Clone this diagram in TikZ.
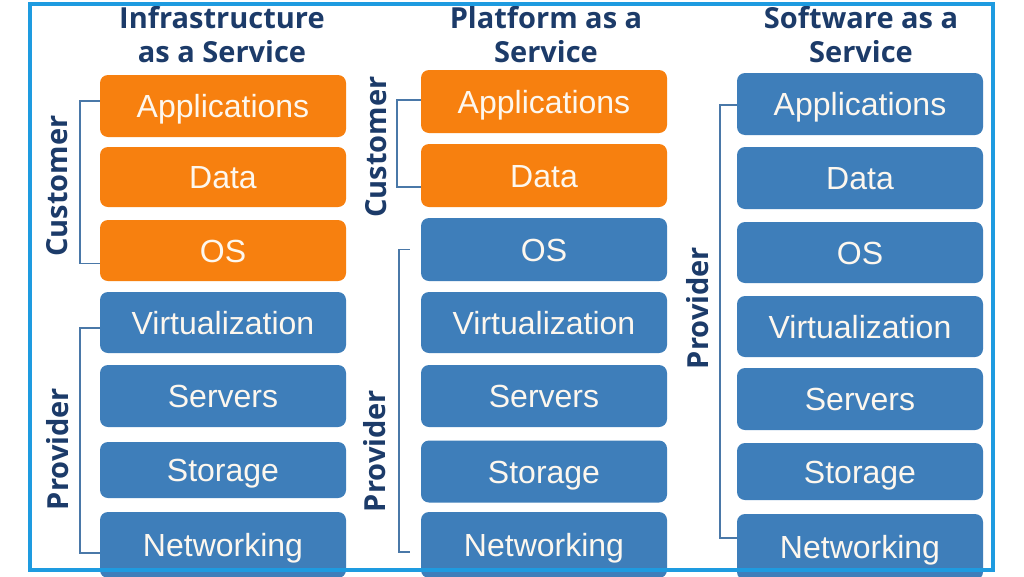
\documentclass[tikz,border=0pt]{standalone}
\usepackage{fontspec}
\setmainfont{Liberation Sans}
\newfontfamily\headfont{Open Sans}[BoldFont={* Bold}]
\definecolor{orangebox}{HTML}{F7800F}
\definecolor{bluebox}{HTML}{3E7EBA}
\definecolor{navy}{HTML}{1C3B69}
\definecolor{frame}{HTML}{1E9BE0}
\definecolor{brack}{HTML}{4A78A8}
\definecolor{boxtext}{HTML}{FDF7EE}
\begin{document}
\begin{tikzpicture}[x=1pt,y=-1pt,
  layer/.style={rectangle,rounded corners=8pt,minimum width=246pt,inner sep=0pt,
    text height=23pt,text depth=0pt,
    text=boxtext,font=\fontsize{32}{36}\selectfont},
  cust/.style={layer,fill=orangebox},
  prov/.style={layer,fill=bluebox},
  head/.style={text=navy,align=center,font=\headfont\bfseries\fontsize{29}{34}\selectfont},
  side/.style={text=navy,rotate=90,font=\headfont\bfseries\fontsize{29}{32}\selectfont},
  brk/.style={draw=brack,line width=1.6pt}]
\useasboundingbox (0,0) rectangle (1024,576);
\fill[white] (0,0) rectangle (1024,576);
\begin{scope}
\clip (0,0) rectangle (1024,576);
% headers
\node[head] (h1) at (222,35) {Infrastructure\\as a Service};
\node[head] (h2) at (546,35) {Platform as a\\Service};
\node[head] (h3) at (861,35) {Software as a\\Service};
% column 1
\node[cust,minimum height=62pt] (a1) at (223,106) {Applications};
\node[cust,minimum height=60pt] (d1) at (223,177) {Data};
\node[cust,minimum height=61pt] (o1) at (223,250.5) {OS};
\node[prov,minimum height=61pt] (v1) at (223,322.5) {Virtualization};
\node[prov,minimum height=62pt] (s1) at (223,396) {Servers};
\node[prov,minimum height=56pt] (t1) at (223,470) {Storage};
\node[prov,minimum height=66pt] (n1) at (223,545) {Networking};
% column 2
\node[cust,minimum height=63pt] (a2) at (544,101.5) {Applications};
\node[cust,minimum height=63pt] (d2) at (544,175.5) {Data};
\node[prov,minimum height=63pt] (o2) at (544,249.5) {OS};
\node[prov,minimum height=61pt] (v2) at (544,322.5) {Virtualization};
\node[prov,minimum height=62pt] (s2) at (544,396) {Servers};
\node[prov,minimum height=62pt] (t2) at (544,471.5) {Storage};
\node[prov,minimum height=66pt] (n2) at (544,545) {Networking};
% column 3
\node[prov,minimum height=62pt] (a3) at (860,104) {Applications};
\node[prov,minimum height=62pt] (d3) at (860,178) {Data};
\node[prov,minimum height=61pt] (o3) at (860,252.5) {OS};
\node[prov,minimum height=61pt] (v3) at (860,326.5) {Virtualization};
\node[prov,minimum height=62pt] (s3) at (860,399) {Servers};
\node[prov,minimum height=57pt] (t3) at (860,471.5) {Storage};
\node[prov,minimum height=66pt] (n3) at (860,547) {Networking};
% brackets
\draw[brk] ([yshift=5pt]a1.west) -- ++(-20,0) |- ([yshift=-13pt]o1.west);
\draw[brk] ([yshift=-5.5pt]v1.west) -- ++(-20,0) |- ([yshift=-8pt]n1.west);
\draw[brk] ([yshift=1.5pt]a2.west) -- ++(-24,0) |- ([yshift=-11.5pt]d2.west);
\coordinate (p2t) at ([xshift=-11pt]o2.west);
\coordinate (p2b) at ([xshift=-11pt,yshift=-7pt]n2.west);
\draw[brk] (p2t) -- ++(-11,0) |- (p2b);
\draw[brk] ([yshift=-1pt]a3.west) -- ++(-17,0) |- ([yshift=9pt]n3.west);
% side labels
\node[side] (c1) at (57,186) {Customer};
\node[side] (p1) at (58,449) {Provider};
\node[side] (c2) at (376,147) {Customer};
\node[side] (p2) at (375,451) {Provider};
\node[side] (p3) at (698,308) {Provider};
\end{scope}
% frame
\draw[frame,line width=3.5pt] (30,4) rectangle (993,570);
\end{tikzpicture}
\end{document}
